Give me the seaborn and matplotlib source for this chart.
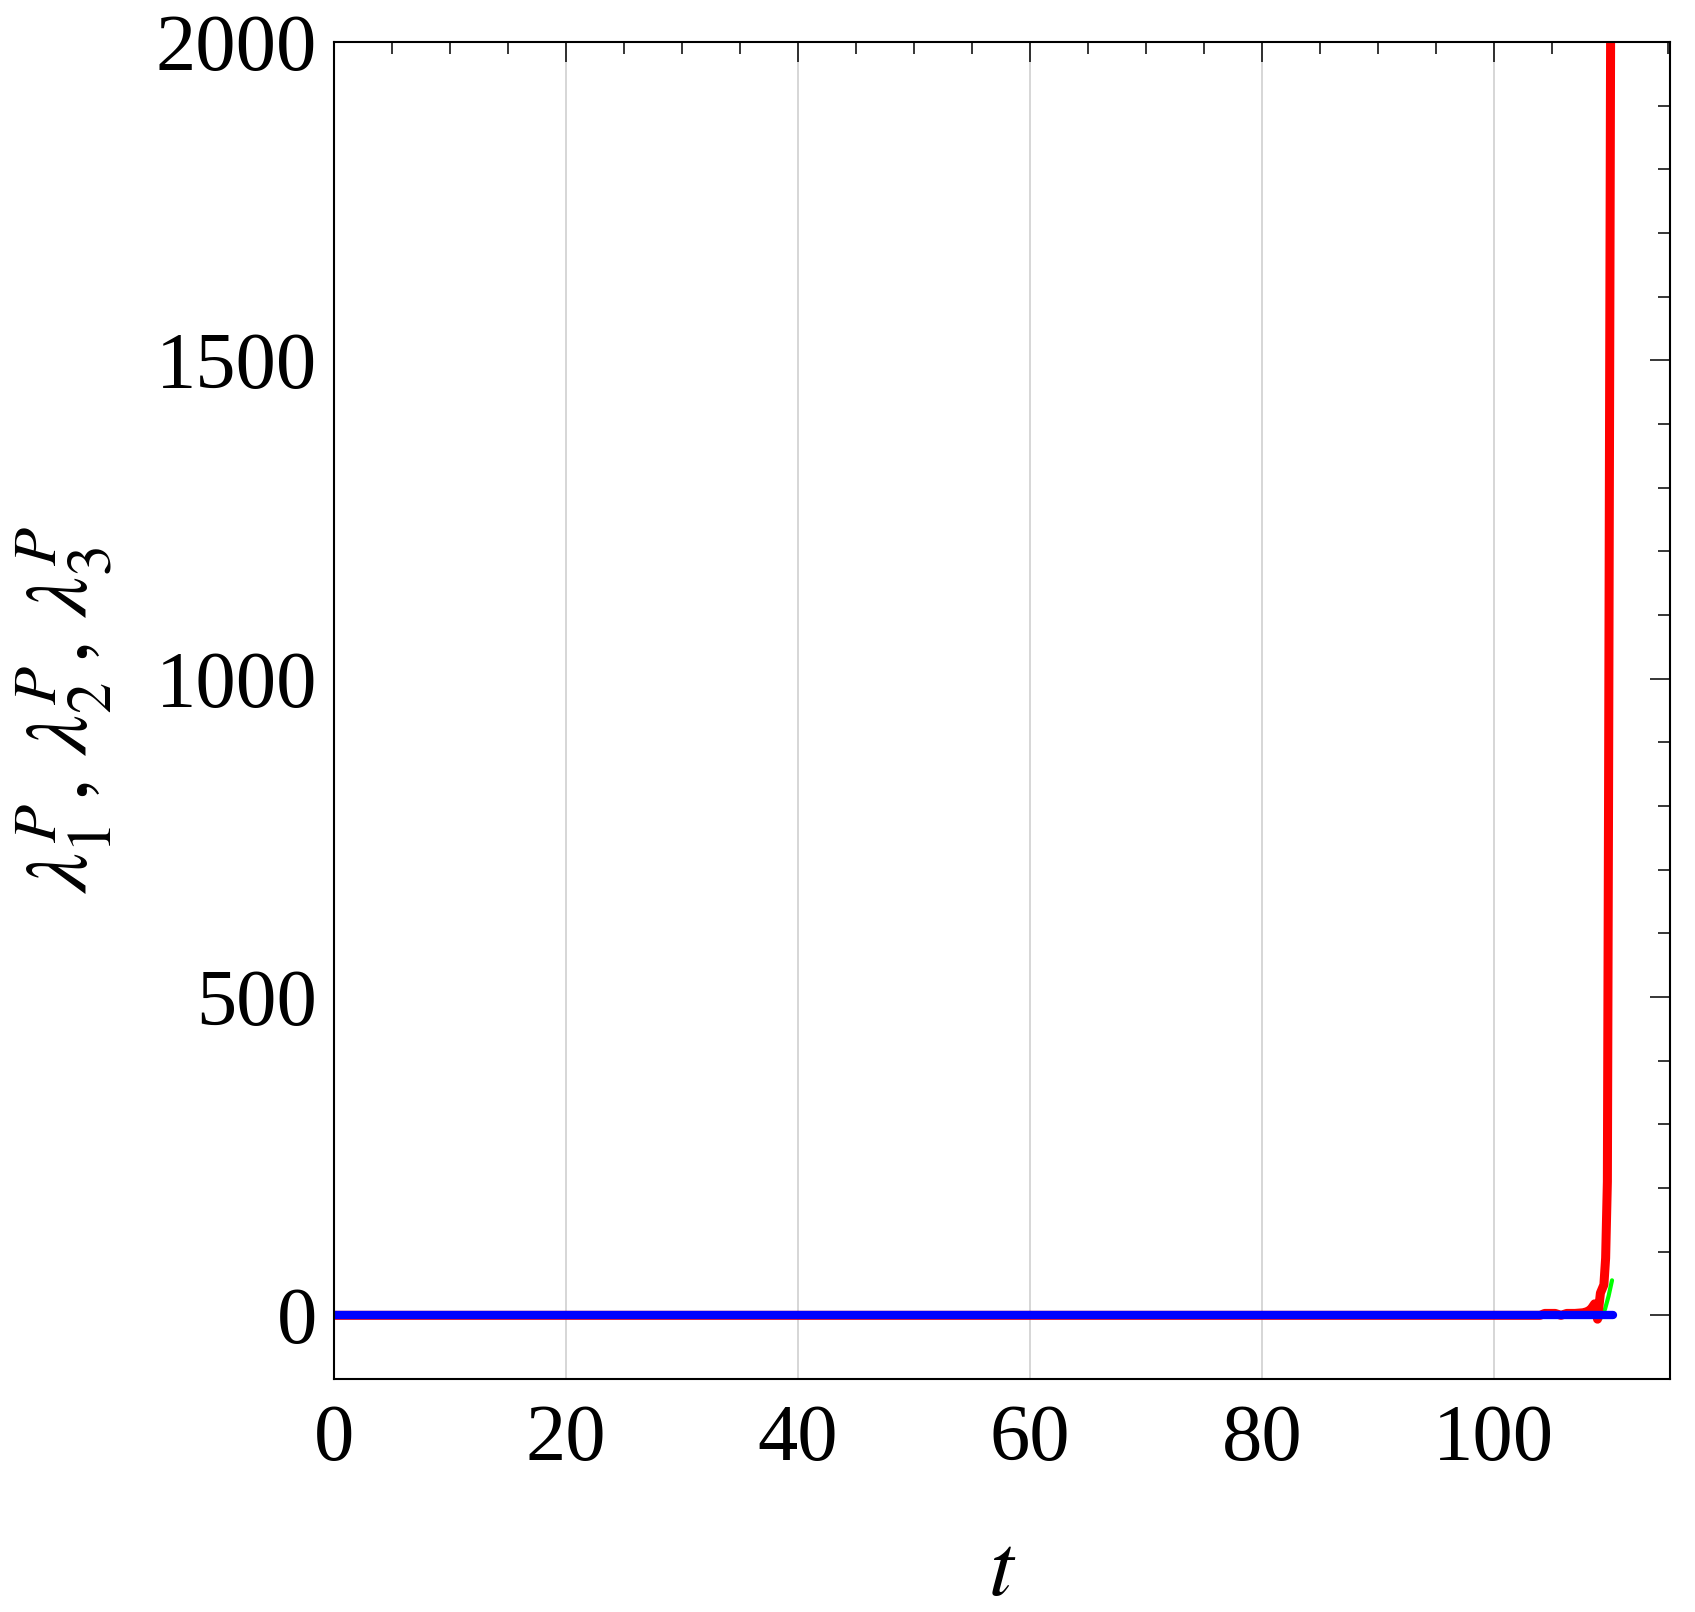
import matplotlib
matplotlib.use("Agg")
import matplotlib.pyplot as plt
from matplotlib.ticker import MultipleLocator
import seaborn as sns

# ----------------- DATA -----------------
t_blue = [0, 20, 40, 60, 80, 100, 105, 108, 109, 110.3]
lam_blue = [0, 0, 0, 0, 0, 0, 0, 0, 0, 0]

t_red = [0, 104.0, 104.4, 105.3, 105.8, 106.3, 107.0, 107.7, 108.1, 108.4,
         108.7, 108.95, 109.2, 109.5, 109.65, 109.8, 109.9, 110.0, 110.1]
lam_red = [0, 0, 3, 3, 0, 3, 3, 4, 6, 10,
           18, -6, 35, 48, 90, 210, 800, 1490, 2150]

t_green = [0, 108.5, 108.8, 109.0, 109.3, 109.6, 109.9, 110.2]
lam_green = [0, 0, -4, -9, -3, 10, 30, 55]

# ----------------- STYLE -----------------
sns.set_style("white")
plt.rcParams["font.family"] = ["Liberation Serif", "DejaVu Serif"]
plt.rcParams["mathtext.fontset"] = "stix"
for key in ["text.color", "axes.labelcolor", "xtick.color", "ytick.color"]:
    plt.rcParams[key] = "black"

fig = plt.figure(figsize=(16.95, 16.12), dpi=100)
ax = fig.add_axes([334 / 1695, 1 - 1379 / 1612, 1336 / 1695, 1337 / 1612])

sns.lineplot(x=t_green, y=lam_green, ax=ax, color="#00ff00", lw=3, sort=False)
sns.lineplot(x=t_red, y=lam_red, ax=ax, color="#ff0000", lw=6.5, sort=False)
sns.lineplot(x=t_blue, y=lam_blue, ax=ax, color="#0000ff", lw=6, sort=False)

ax.set_xlim(0, 115.2)
ax.set_ylim(-100, 2000)

ax.xaxis.set_major_locator(MultipleLocator(20))
ax.xaxis.set_minor_locator(MultipleLocator(5))
ax.yaxis.set_major_locator(MultipleLocator(500))
ax.yaxis.set_minor_locator(MultipleLocator(100))

ax.tick_params(which="both", direction="in", top=True, right=True,
               color="black", labelcolor="black", width=1.1)
ax.tick_params(which="major", length=14.5, labelsize=58, pad=12)
ax.tick_params(which="minor", length=8.5)
ax.tick_params(axis="x", which="major", pad=18)

ax.grid(axis="x", which="major", color="#cccccc", lw=1.1)
ax.grid(axis="y", visible=False)
for s in ax.spines.values():
    s.set_color("black")
    s.set_linewidth(1.5)

ax.set_xlabel("$t$", fontsize=64, labelpad=40, color="black")
ax.set_ylabel(r"$\lambda_1^P,\, \lambda_2^P,\, \lambda_3^P$", fontsize=64,
              labelpad=30, color="black")

fig.savefig("out.png", dpi=100)
